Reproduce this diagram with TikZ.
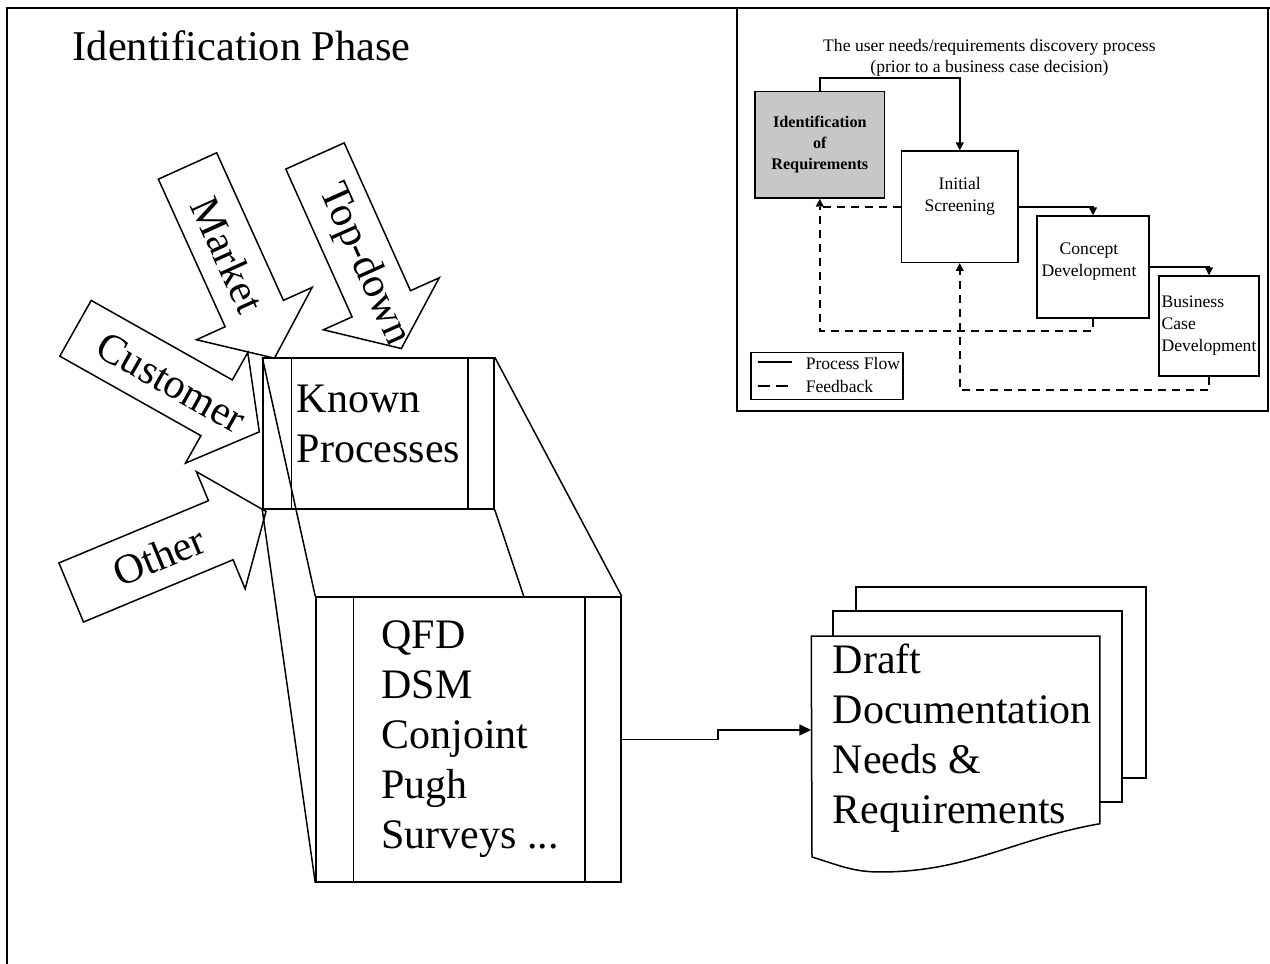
\documentclass[tikz,border=0pt]{standalone}
\usepackage{fontspec}
\setmainfont{Liberation Serif}
\usetikzlibrary{arrows.meta}

\begin{document}
\begin{tikzpicture}[x=0.5pt, y=0.5pt, line width=0.75pt,
    big/.style={font=\fontsize{21}{25}\selectfont},
    small/.style={font=\fontsize{8.8}{11}\selectfont},
    stage/.style={draw, line width=0.6pt, inner sep=0pt},
    flow/.style={line width=1pt, -{Triangle[length=4pt,width=3.8pt]}},
    feedback/.style={line width=1pt, dash pattern=on 4pt off 3pt},
    arrowhd/.style={-{Triangle[length=4pt,width=3.8pt]}}]
  \useasboundingbox (0,0) rectangle (1270,964);
  \draw (7,0) -- (7,956) -- (1270,956);
  \draw (737,956) -- (737,553) -- (1268,553) -- (1268,956);
  \node[anchor=base west, inner sep=0pt, font=\fontsize{21.2}{25}\selectfont] (phase) at (72,903) {Identification Phase};

  \node[small, font=\fontsize{8.8}{10.5}\selectfont, align=center] (discovery) at (989.4,906.5) {The user needs/requirements discovery process\\(prior to a business case decision)};
  \node[stage, fill=black!22, minimum width=64.8pt, minimum height=53.35pt, align=center, font=\fontsize{8.1}{10.5}\selectfont\bfseries] (ident) at (819.8,819.25) {Identification\\of\\Requirements};
  \node[stage, minimum width=58.15pt, minimum height=55.7pt] (initial) at (959.75,757.3) {};
  \node[small, align=center] (initialtxt) at (959.75,768.1) {Initial\\Screening};
  \node[stage, minimum width=56pt, minimum height=51pt] (concept) at (1093,697) {};
  \node[small, align=center] (concepttxt) at (1089,702.5) {Concept\\Development};
  \node[stage, small, align=left, minimum width=50pt, minimum height=50pt] (business) at (1209,638) {Business\\Case\\Development};
  \draw[flow] (ident.north) -- ++(0,12.5) -| (initial.north);
  \draw[flow] (initial.east) -| (concept.north);
  \draw[flow] (concept.east) -| (business.north);
  \draw[feedback, arrowhd] (initial.west) -| (ident.south);
  \draw[feedback] (concept.south) -- ++(0,-12) -| (ident.south |- initial.west);
  \draw[feedback, arrowhd] (business.south) -- ++(0,-13.4) -| (initial.south);
  \node[stage, minimum width=76pt, minimum height=23.6pt] (legend) at (827,588.1) {};
  \draw[line width=1pt] (757.7,601.6) -- (791.7,601.6);
  \draw[feedback, dash pattern=on 6pt off 3pt] (757.7,578) -- (791.7,578);
  \node[small, anchor=west, inner sep=0pt] (lgflow) at (805,600.6) {Process Flow};
  \node[small, anchor=west, inner sep=0pt] (lgfeed) at (805,578) {Feedback};

  \begin{scope}[shift={(187.5,798)}, rotate=-65.65]
    \draw (0,32) -- (162,32) -- (162,63.5) -- (211,0) -- (162,-63.5) -- (162,-32) -- (0,-32) -- cycle;
    \node[big, transform shape] (market) at (98,0) {Market};
  \end{scope}
  \begin{scope}[shift={(315,808)}, rotate=-65.85]
    \draw (0,32) -- (162,32) -- (162,63.5) -- (211,0) -- (162,-63.5) -- (162,-32) -- (0,-32) -- cycle;
    \node[big, transform shape] (topdown) at (119,0) {Top-down};
  \end{scope}
  \begin{scope}[shift={(75.5,635.7)}, rotate=-29.4]
    \draw (0,32) -- (162,32) -- (162,63.5) -- (211,0) -- (162,-63.5) -- (162,-32) -- (0,-32) -- cycle;
    \node[big, transform shape] (customer) at (110,0) {Customer};
  \end{scope}
  \begin{scope}[shift={(71.2,371.5)}, rotate=22.6]
    \draw (0,32) -- (162,32) -- (162,63.5) -- (211,0) -- (162,-63.5) -- (162,-32) -- (0,-32) -- cycle;
    \node[big, transform shape] (other) at (95,0) {Other};
  \end{scope}

  \node[draw, minimum width=115.5pt, minimum height=75.5pt, inner sep=0pt] (known) at (378.5,530.5) {};
  \draw (known.north west) ++(29,0) -- ++(0,-151);
  \draw (known.north east) ++(-27,0) -- ++(0,-151);
  \node[draw, fill=white, minimum width=152.5pt, minimum height=142.5pt, inner sep=0pt] (qfd) at (468.5,224.5) {};
  \draw (known.north west) -- (qfd.north west);
  \draw (known.south west) -- (qfd.south west);
  \draw (known.north east) -- (qfd.north east);
  \draw (known.south east) -- (524,367);
  \draw (qfd.north west) ++(38,0) -- ++(0,-285);
  \draw (qfd.north east) ++(-37,0) -- ++(0,-285);
  \node[big, anchor=north west, align=left, inner sep=0pt] (knowntxt) at (296,580) {Known\\Processes};
  \node[big, anchor=north west, align=left, inner sep=0pt] (qfdtxt) at (380.6,344.5) {QFD\\DSM\\Conjoint\\Pugh\\Surveys ...};

  \draw[fill=white] (856,377) rectangle (1146,186);
  \draw[fill=white] (833,353) rectangle (1122,162);
  \node[minimum width=143.5pt, minimum height=93pt, inner sep=0pt] (draft) at (955.5,234) {};
  \coordinate (draftfoot) at (812,107);
  \draw[fill=white] (draft.north west) -- (draft.north east) -- (draft.south east) to[out=190,in=0] (880,92) to[out=180,in=-17] (draftfoot) -- cycle;
  \node[big, anchor=north west, align=left, inner sep=0pt] (drafttxt) at (832,320.7) {Draft\\Documentation\\Needs \&\\Requirements};
  \draw[-{Triangle[length=6pt,width=5.5pt]}] (qfd.east) -- ++(96,0) |- (draft.west);
\end{tikzpicture}
\end{document}
